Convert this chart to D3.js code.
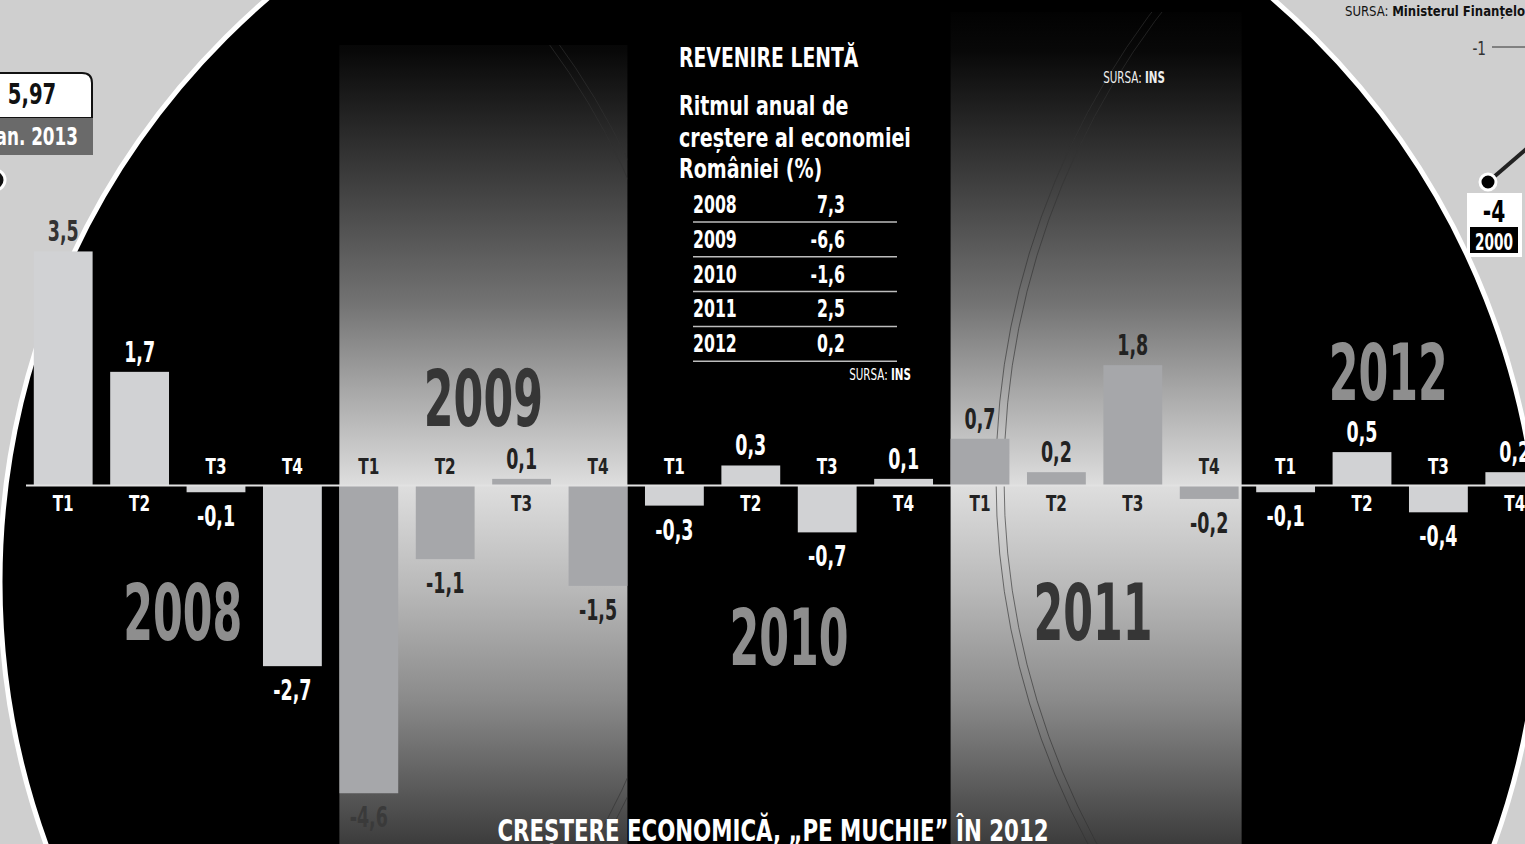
<!DOCTYPE html>
<html>
<head>
<meta charset="utf-8">
<script src="https://cdnjs.cloudflare.com/ajax/libs/d3/7.8.5/d3.min.js"></script>
<style>
  body { margin: 0; background: #cfcfcf; overflow: hidden; }
  svg { display: block; }
  text { font-family: "DejaVu Sans Condensed", "DejaVu Sans", sans-serif; font-weight: bold; }
  .thin { font-weight: normal; }
</style>
</head>
<body>
<svg width="1525" height="844"></svg>
<script>
// quarterly growth (%), 2008 - 2012
var years = ['2008', '2009', '2010', '2011', '2012'];
var quarters = ['T1', 'T2', 'T3', 'T4'];
var growth = [3.5, 1.7, -0.1, -2.7,
              -4.6, -1.1, 0.1, -1.5,
              -0.3, 0.3, -0.7, 0.1,
              0.7, 0.2, 1.8, -0.2,
              -0.1, 0.5, -0.4, 0.2];

// annual table
var annualYears = ['2008', '2009', '2010', '2011', '2012'];
var annualGrowth = [7.3, -6.6, -1.6, 2.5, 0.2];

var W = 1525, H = 844;
var svg = d3.select('svg');
var defs = svg.append('defs');

var ro = d3.formatLocale({decimal: ',', thousands: '.', grouping: [3], currency: ['', ''], minus: '-'});
var comma = ro.format('.1f');

// the only fonts around are wide, so text is squeezed sideways
var put = function(sel, sx, px, py){
  return sel.attr('transform', function(d, i){
    var a = typeof px == 'function' ? px(d, i) : px;
    var b = typeof py == 'function' ? py(d, i) : py;
    return 'translate(' + a + ',' + b + ') scale(' + sx + ',1)';
  });
};

var rows = growth.map(function(v, i){
  var k = Math.floor(i / 4);
  return {i: i, v: v, year: years[k], q: quarters[i % 4], shaded: k % 2 == 1};
});

var x = d3.scaleBand()
    .domain(d3.range(growth.length))
    .range([25, 1553])
    .paddingInner(0.23)
    .paddingOuter(0.115)
    ;
var y = d3.scaleLinear()
    .domain([-5, 4])
    .range([820, 218])
    ;

// the black disc
var cx = 770, cy = 582, rad = 770;
var outside = function(px, py){ return Math.hypot(px - cx, py - cy) > rad; };

defs.append('clipPath').attr('id', 'disc')
    .append('circle').attr('cx', cx).attr('cy', cy).attr('r', rad);

var grad = defs.append('linearGradient')
    .attr('id', 'shade')
    .attr('gradientUnits', 'userSpaceOnUse')
    .attr('x1', 0).attr('y1', 0).attr('x2', 0).attr('y2', H);
[[0, '#000'], [0.06, '#080808'], [0.24, '#474747'], [0.36, '#737373'], [0.46, '#a6a6a6'],
 [0.575, '#dedede'], [0.7, '#b8b8b8'], [0.83, '#8a8a8a'], [1, '#3c3c3c']]
  .forEach(function(s){
    grad.append('stop').attr('offset', s[0]).attr('stop-color', s[1]);
  });

svg.append('circle')
    .attr('cx', cx).attr('cy', cy).attr('r', rad)
    .attr('fill', '#000')
    .attr('stroke', '#fff')
    .attr('stroke-width', 5)
    ;

var plot = svg.append('g').attr('clip-path', 'url(#disc)');

// shaded year columns
var bandLeft = function(k){ return x(k * 4); };
var bandRight = function(k){ return x(k * 4 + 3) + x.bandwidth() + (k == 3 ? 3 : 0); };

years.forEach(function(yr, k){
  if (k % 2 == 1) {
    var top = k == 1 ? 45 : 12;
    var g = plot.append('g');
    defs.append('clipPath').attr('id', 'band' + k)
        .append('rect')
        .attr('x', bandLeft(k)).attr('y', top)
        .attr('width', bandRight(k) - bandLeft(k)).attr('height', H);
    g.append('rect')
        .attr('x', bandLeft(k)).attr('y', top)
        .attr('width', bandRight(k) - bandLeft(k))
        .attr('height', H)
        .attr('fill', 'url(#shade)');
    // faint double ring lines
    var ringX = k == 1 ? -38 : 1771;
    var ringR = k == 1 ? 730 : 775;
    [0, 8].forEach(function(off){
      g.append('circle')
          .attr('clip-path', 'url(#band' + k + ')')
          .attr('cx', ringX).attr('cy', 478)
          .attr('r', ringR + (k == 1 ? off : -off))
          .attr('fill', 'none')
          .attr('stroke', '#333')
          .attr('stroke-opacity', 0.8)
          .attr('stroke-width', 0.8);
    });
  }
});

// big year labels
var yearBase = [640, 426, 665, 640, 400];
var yearShift = [5, 0, 0, -3, -12];
put(plot.selectAll('text.year')
    .data(years)
    .enter().append('text')
    .attr('class', 'year')
    .attr('text-anchor', 'middle')
    .attr('font-size', 78)
    .attr('fill', function(d, k){ return k % 2 == 1 ? '#363636' : '#8e8e8e'; })
    .text(function(d){ return d; }),
  0.61,
  function(d, k){ return (bandLeft(k) + bandRight(k)) / 2 + yearShift[k]; },
  function(d, k){ return yearBase[k]; })
    ;

// bars (not clipped: the first one runs over the rim)
var marks = svg.append('g');
marks.selectAll('rect.bar')
    .data(rows)
    .enter().append('rect')
    .attr('class', 'bar')
    .attr('x', function(d){ return x(d.i); })
    .attr('width', x.bandwidth())
    .attr('y', function(d){ return y(Math.max(0, d.v)); })
    .attr('height', function(d){ return Math.abs(y(d.v) - y(0)); })
    .attr('fill', function(d){ return d.shaded ? '#a6a7aa' : '#d1d2d4'; })
    ;

// zero line
marks.append('line')
    .attr('x1', 26).attr('x2', W)
    .attr('y1', y(0)).attr('y2', y(0))
    .attr('stroke', '#e2e2e2')
    .attr('stroke-width', 2)
    ;

var inkOf = function(d){ return d.shaded ? '#222' : '#fff'; };
var mid = function(d){ return x(d.i) + x.bandwidth() / 2; };
var valY = function(d){ return d.v >= 0 ? y(d.v) - 10 : y(d.v) + 34; };

// value labels
put(marks.selectAll('text.val')
    .data(rows)
    .enter().append('text')
    .attr('class', 'val')
    .attr('text-anchor', 'middle')
    .attr('font-size', 29)
    .attr('fill', function(d){
      if (outside(mid(d), valY(d) - 10)) return '#333';
      return d.i == 4 ? '#3a3a3a' : inkOf(d);
    })
    .text(function(d){ return comma(d.v); }),
  0.67, mid, valY)
    ;

// quarter labels
put(marks.selectAll('text.q')
    .data(rows)
    .enter().append('text')
    .attr('class', 'q')
    .attr('text-anchor', 'middle')
    .attr('font-size', 22)
    .attr('fill', inkOf)
    .text(function(d){ return d.q; }),
  0.77, mid,
  function(d){ return d.v >= 0 ? y(0) + 25 : y(0) - 12; })
    ;

// annual table box
var box = svg.append('g');
put(box.append('text')
    .attr('font-size', 27).attr('fill', '#fff')
    .text('REVENIRE LENTĂ'), 0.775, 679, 67);
put(box.selectAll('text.sub')
    .data(['Ritmul anual de', 'creștere al economiei', 'României (%)'])
    .enter().append('text')
    .attr('class', 'sub')
    .attr('font-size', 27).attr('fill', '#fff')
    .text(function(d){ return d; }),
  0.785, 679, function(d, i){ return 115 + i * 31.5; });

var rowY = d3.scaleBand().domain(annualYears).range([191, 365]);
var trow = box.selectAll('g.row')
    .data(annualYears)
    .enter().append('g')
    .attr('class', 'row')
    .attr('transform', function(d){ return 'translate(0,' + rowY(d) + ')'; });
put(trow.append('text')
    .attr('font-size', 25).attr('fill', '#fff')
    .text(function(d){ return d; }), 0.7, 693, 22);
put(trow.append('text')
    .attr('text-anchor', 'end')
    .attr('font-size', 25).attr('fill', '#fff')
    .text(function(d, i){ return comma(annualGrowth[i]); }), 0.7, 845, 22);
trow.append('line')
    .attr('x1', 693).attr('x2', 897)
    .attr('y1', 31).attr('y2', 31)
    .attr('stroke', '#bdbdbd').attr('stroke-width', 1.5);

var src1 = put(box.append('text')
    .attr('text-anchor', 'end')
    .attr('font-size', 16).attr('fill', '#fff'), 0.72, 911, 380);
src1.append('tspan').attr('class', 'thin').text('SURSA: ');
src1.append('tspan').text('INS');

var src2 = put(svg.append('text')
    .attr('text-anchor', 'end')
    .attr('font-size', 16).attr('fill', '#eee'), 0.72, 1165, 83);
src2.append('tspan').attr('class', 'thin').text('SURSA: ');
src2.append('tspan').text('INS');

// title
put(svg.append('text')
    .attr('text-anchor', 'middle')
    .attr('font-size', 31).attr('fill', '#fff')
    .text('CREȘTERE ECONOMICĂ, „PE MUCHIE” ÎN 2012'), 0.765, 773, 841);

// pieces of the neighbouring chart (outside the disc)
var left = svg.append('g');
left.append('path')
    .attr('d', 'M-10,73 H82 Q92,73 92,83 V118 H-10 Z')
    .attr('fill', '#fff').attr('stroke', '#111').attr('stroke-width', 2);
left.append('rect')
    .attr('x', -10).attr('y', 118).attr('width', 103).attr('height', 37)
    .attr('fill', '#6a6a6a');
put(left.append('text')
    .attr('text-anchor', 'middle')
    .attr('font-size', 28).attr('fill', '#111')
    .text('5,97'), 0.78, 32, 104);
put(left.append('text')
    .attr('text-anchor', 'end')
    .attr('font-size', 24).attr('fill', '#fff')
    .text('ian. 2013'), 0.78, 78, 145);
left.append('circle')
    .attr('cx', -5).attr('cy', 180).attr('r', 10)
    .attr('fill', '#111').attr('stroke', '#fff').attr('stroke-width', 3);

var right = svg.append('g');
var src3 = put(right.append('text')
    .attr('font-size', 14).attr('fill', '#111'), 0.93, 1345, 16);
src3.append('tspan').attr('class', 'thin').text('SURSA: ');
src3.append('tspan').text('Ministerul Finanțelor');
put(right.append('text')
    .attr('class', 'thin')
    .attr('text-anchor', 'end')
    .attr('font-size', 19).attr('fill', '#333')
    .text('-1'), 0.8, 1486, 55);
right.append('line')
    .attr('x1', 1492).attr('x2', W).attr('y1', 47).attr('y2', 47)
    .attr('stroke', '#333').attr('stroke-width', 1);
right.append('line')
    .attr('x1', 1488).attr('y1', 182).attr('x2', 1532).attr('y2', 144)
    .attr('stroke', '#222').attr('stroke-width', 4);
right.append('circle')
    .attr('cx', 1488).attr('cy', 182).attr('r', 8)
    .attr('fill', '#000').attr('stroke', '#fff').attr('stroke-width', 3);
right.append('rect')
    .attr('x', 1467).attr('y', 193).attr('width', 55).attr('height', 64)
    .attr('fill', '#fff');
right.append('rect')
    .attr('x', 1470).attr('y', 227).attr('width', 48).attr('height', 26)
    .attr('fill', '#000');
put(right.append('text')
    .attr('text-anchor', 'middle')
    .attr('font-size', 30).attr('fill', '#000')
    .text('-4'), 0.75, 1494, 222);
put(right.append('text')
    .attr('text-anchor', 'middle')
    .attr('font-size', 23).attr('fill', '#fff')
    .text('2000'), 0.66, 1494, 250);
</script>
</body>
</html>
